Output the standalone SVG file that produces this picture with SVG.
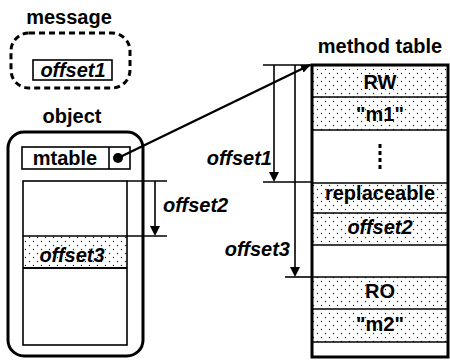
<svg xmlns="http://www.w3.org/2000/svg" width="450" height="361" viewBox="0 0 450 361">
<style>
text{font-family:"Liberation Sans",Arial,sans-serif;font-size:20px;font-weight:bold;fill:#000}
.it{font-style:italic}
.c{text-anchor:middle}
.r{text-anchor:end}
.ln{stroke:#000;stroke-width:1.6;fill:none}
.th{stroke:#000;stroke-width:3;fill:none}
.dot{fill:url(#dots)}
</style>
<defs>
<pattern id="dots" width="8" height="8" patternUnits="userSpaceOnUse">
<rect width="8" height="8" fill="#fff"/>
<circle cx="1.5" cy="1.5" r="0.7" fill="#222"/>
<circle cx="5.5" cy="5.5" r="0.7" fill="#222"/>
</pattern>
<marker id="ah" markerWidth="10" markerHeight="8" refX="9" refY="4" orient="auto" markerUnits="userSpaceOnUse">
<path d="M0,0 L10,4 L0,8 Z" fill="#000"/>
</marker>
</defs>

<g id="message">
<text x="69" y="24" class="c">message</text>
<rect x="11" y="33" width="119" height="55" rx="18" fill="none" stroke="#000" stroke-width="3" stroke-dasharray="6,4"/>
<rect x="33" y="60" width="79" height="20" class="ln"/>
<text x="73" y="77" class="c it">offset1</text>
</g>

<g id="object">
<text x="72" y="123" class="c">object</text>
<rect x="8" y="132" width="135" height="224" rx="16" class="th"/>
<rect x="22" y="147" width="108" height="22" class="ln"/>
<line x1="109" y1="147" x2="109" y2="169" class="ln"/>
<text x="65" y="165" class="c">mtable</text>
<circle cx="118" cy="158" r="5" fill="#000"/>
<rect x="23" y="236" width="104" height="32" class="dot"/>
<rect x="23" y="181" width="104" height="164" class="ln"/>
<line x1="23" y1="236" x2="127" y2="236" class="ln"/>
<line x1="23" y1="268" x2="127" y2="268" stroke="#000" stroke-width="2"/>
<text x="72" y="262" class="c it">offset3</text>
</g>

<g id="method-table">
<text x="380" y="53" class="c">method table</text>
<rect x="312" y="65" width="136" height="32" class="dot"/>
<rect x="312" y="97" width="136" height="33" class="dot"/>
<rect x="312" y="183" width="136" height="30" class="dot"/>
<rect x="312" y="213" width="136" height="32" class="dot"/>
<rect x="312" y="277" width="136" height="32" class="dot"/>
<rect x="312" y="310" width="136" height="32" class="dot"/>
<g class="ln">
<line x1="312" y1="97" x2="448" y2="97"/>
<line x1="312" y1="130" x2="448" y2="130"/>
<line x1="312" y1="183" x2="448" y2="183"/>
<line x1="312" y1="213" x2="448" y2="213"/>
<line x1="312" y1="245" x2="448" y2="245"/>
<line x1="312" y1="277" x2="448" y2="277"/>
<line x1="312" y1="309" x2="448" y2="309"/>
<line x1="312" y1="342" x2="448" y2="342"/>
</g>
<rect x="312" y="65" width="136" height="292" class="th"/>
<text x="380" y="89" class="c">RW</text>
<text x="380" y="121" class="c">"m1"</text>
<line x1="380" y1="144" x2="380" y2="171" stroke="#000" stroke-width="3" stroke-dasharray="4,3"/>
<text x="380" y="200" class="c">replaceable</text>
<text x="380" y="234" class="c it">offset2</text>
<text x="380" y="298" class="c">RO</text>
<text x="380" y="331" class="c">"m2"</text>
</g>

<g id="connectors">
<line x1="118" y1="158" x2="310" y2="65" stroke="#000" stroke-width="2.5" marker-end="url(#ah)"/>
<g class="ln">
<line x1="127" y1="181" x2="167" y2="181"/>
<line x1="127" y1="236" x2="167" y2="236"/>
<line x1="155" y1="181" x2="155" y2="227"/>
<line x1="263" y1="65" x2="312" y2="65"/>
<line x1="263" y1="182" x2="312" y2="182"/>
<line x1="274" y1="65" x2="274" y2="173"/>
<line x1="285" y1="277" x2="312" y2="277"/>
<line x1="295" y1="65" x2="295" y2="268"/>
</g>
<path d="M150,226 L160,226 L155,236 Z" fill="#000"/>
<path d="M269,172 L279,172 L274,182 Z" fill="#000"/>
<path d="M290,267 L300,267 L295,277 Z" fill="#000"/>
<text x="163" y="212" class="it">offset2</text>
<text x="272" y="165" class="r it">offset1</text>
<text x="290" y="256" class="r it">offset3</text>
</g>
</svg>
